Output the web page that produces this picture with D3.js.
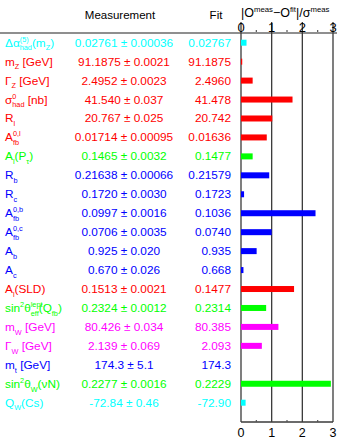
<!DOCTYPE html>
<html>
<head>
<meta charset="utf-8">
<script src="https://d3js.org/d3.v7.min.js"></script>
<style>
  body { margin: 0; background: #fff; }
  text { font-family: "Liberation Sans", Arial, Helvetica, sans-serif; }
</style>
</head>
<body>
<div id="vis"></div>
<script>

    // chart data
    var labels = ["Δα^{(5)}_{had}(m_{Z})", "m_{Z} [GeV]", "Γ_{Z} [GeV]", "σ^{0}_{had} [nb]", "R_{l}",
        "A^{0,l}_{fb}", "A_{l}(P_{τ})", "R_{b}", "R_{c}", "A^{0,b}_{fb}", "A^{0,c}_{fb}", "A_{b}", "A_{c}",
        "A_{l}(SLD)", "sin^{2}θ^{lept}_{eff}(Q_{fb})", "m_{W} [GeV]", "Γ_{W} [GeV]", "m_{t} [GeV]",
        "sin^{2}θ_{W}(νN)", "Q_{W}(Cs)"];
    var measured = ["0.02761", "91.1875", "2.4952", "41.540", "20.767", "0.01714", "0.1465", "0.21638",
        "0.1720", "0.0997", "0.0706", "0.925", "0.670", "0.1513", "0.2324", "80.426", "2.139", "174.3",
        "0.2277", "-72.84"];
    var errors = ["0.00036", "0.0021", "0.0023", "0.037", "0.025", "0.00095", "0.0032", "0.00066",
        "0.0030", "0.0016", "0.0035", "0.020", "0.026", "0.0021", "0.0012", "0.034", "0.069", "5.1",
        "0.0016", "0.46"];
    var fits = ["0.02767", "91.1875", "2.4960", "41.478", "20.742", "0.01636", "0.1477", "0.21579",
        "0.1723", "0.1036", "0.0740", "0.935", "0.668", "0.1477", "0.2314", "80.385", "2.093", "174.3",
        "0.2229", "-72.90"];
    var pulls = [0.18, 0.04, 0.38, 1.68, 1.02, 0.84, 0.38, 0.92, 0.10, 2.43, 1.00, 0.51, 0.08,
        1.73, 0.82, 1.22, 0.68, 0.00, 2.93, 0.15];
    var groups = ["c", "r", "r", "r", "r", "r", "g", "b", "b", "b", "b", "b", "b",
        "r", "g", "m", "m", "b", "g", "c"];
    var ticks = [0, 1, 2, 3];
    var minorTicks = [0.5, 1.5, 2.5];

    var width = 346, height = 444;

    var svg = d3.select("#vis")
        .append("svg")
        .attr("width", width)
        .attr("height", height);

    var color = d3.scaleOrdinal()
        .domain(["c", "r", "g", "b", "m"])
        .range(["#00ffff", "#ff0000", "#00ff00", "#0000ff", "#ff00ff"]);

    var x = d3.scaleLinear().domain([0, 3]).range([241, 333]);
    var y = d3.scalePoint()
        .domain(d3.range(labels.length))
        .range([42.7, 402.7]);

    var lineTop = 33, lineBottom = 422;

    // header
    svg.append("text").attr("x", 120).attr("y", 19)
        .attr("text-anchor", "middle").style("font-size", "11.5px").text("Measurement");
    svg.append("text").attr("x", 216).attr("y", 19)
        .attr("text-anchor", "middle").style("font-size", "11.5px").text("Fit");

    // turns "A^{0,l}_{fb}" into tspans, stacking a sub under a sup
    function drawLabel(sel, str, size) {
        var small = size * 0.62;
        var parts = [];
        var re = /([\^_])\{([^}]*)\}|([^\^_]+)/g, m;
        while ((m = re.exec(str)) !== null) {
            if (m[3]) parts.push({ t: m[3], k: "n" });
            else parts.push({ t: m[2], k: m[1] == "^" ? "sup" : "sub" });
        }
        var level = 0, lastSup = null;
        parts.forEach(function (p, i) {
            var target = p.k == "sup" ? -size * 0.42 : p.k == "sub" ? size * 0.32 : 0;
            var ts = sel.append("tspan")
                .attr("dy", target - level)
                .style("font-size", (p.k == "n" ? size : small) + "px")
                .text(p.t);
            if (p.k == "sub" && lastSup) {
                ts.attr("dx", -lastSup.node().getComputedTextLength());
            }
            lastSup = p.k == "sup" ? ts : null;
            level = target;
        });
    }

    var hdr = svg.append("text").attr("x", 241).attr("y", 17);
    drawLabel(hdr, "|O^{meas}−O^{fit}|/σ^{meas}", 12.5);

    // gridlines and frame
    svg.append("line")
        .attr("x1", 0).attr("x2", 337)
        .attr("y1", lineTop).attr("y2", lineTop)
        .attr("stroke", "#6a6a6a").attr("stroke-width", 1.6);

    svg.append("g").selectAll("line")
        .data(ticks)
        .enter().append("line")
        .attr("x1", function (d) { return x(d); })
        .attr("x2", function (d) { return x(d); })
        .attr("y1", 22).attr("y2", lineBottom)
        .attr("stroke", "#3a3a3a").attr("stroke-width", 1.3);

    svg.append("line")
        .attr("x1", x(0)).attr("x2", x(3))
        .attr("y1", lineBottom).attr("y2", lineBottom)
        .attr("stroke", "#3a3a3a").attr("stroke-width", 1.3);

    svg.append("g").selectAll("line")
        .data(minorTicks)
        .enter().append("line")
        .attr("x1", function (d) { return x(d); })
        .attr("x2", function (d) { return x(d); })
        .attr("y1", lineTop - 3).attr("y2", lineTop - 1)
        .attr("stroke", "#555").attr("stroke-width", 1.2);

    svg.append("g").selectAll("line")
        .data(minorTicks)
        .enter().append("line")
        .attr("x1", function (d) { return x(d); })
        .attr("x2", function (d) { return x(d); })
        .attr("y1", lineBottom - 2).attr("y2", lineBottom)
        .attr("stroke", "#555").attr("stroke-width", 1.2);

    // tick labels, top and bottom
    svg.append("g").selectAll("text")
        .data(ticks)
        .enter().append("text")
        .attr("x", function (d) { return x(d); })
        .attr("y", 32)
        .attr("text-anchor", "middle")
        .style("font-size", "13px")
        .text(function (d) { return d; });

    svg.append("g").selectAll("text")
        .data(ticks)
        .enter().append("text")
        .attr("x", function (d) { return x(d); })
        .attr("y", 437)
        .attr("text-anchor", "middle")
        .style("font-size", "12.5px")
        .text(function (d) { return d; });

    // rows
    var rows = svg.append("g").selectAll("g")
        .data(d3.range(labels.length))
        .enter().append("g");

    rows.each(function (i) {
        var g = d3.select(this);
        var c = color(groups[i]);
        var t = g.append("text").attr("x", 5).attr("y", y(i) + 4).attr("fill", c);
        drawLabel(t, labels[i], 11.8);

        g.append("text")
            .attr("x", 124).attr("y", y(i) + 4)
            .attr("text-anchor", "middle")
            .attr("fill", c)
            .style("font-size", "11.8px")
            .text(measured[i] + " ± " + errors[i]);

        g.append("text")
            .attr("x", 231).attr("y", y(i) + 4)
            .attr("text-anchor", "end")
            .attr("fill", c)
            .style("font-size", "11.8px")
            .text(fits[i]);

        g.append("rect")
            .attr("x", x(0))
            .attr("y", y(i) - 3)
            .attr("width", x(pulls[i]) - x(0))
            .attr("height", 6)
            .attr("fill", c);
    });

</script>
</body>
</html>
